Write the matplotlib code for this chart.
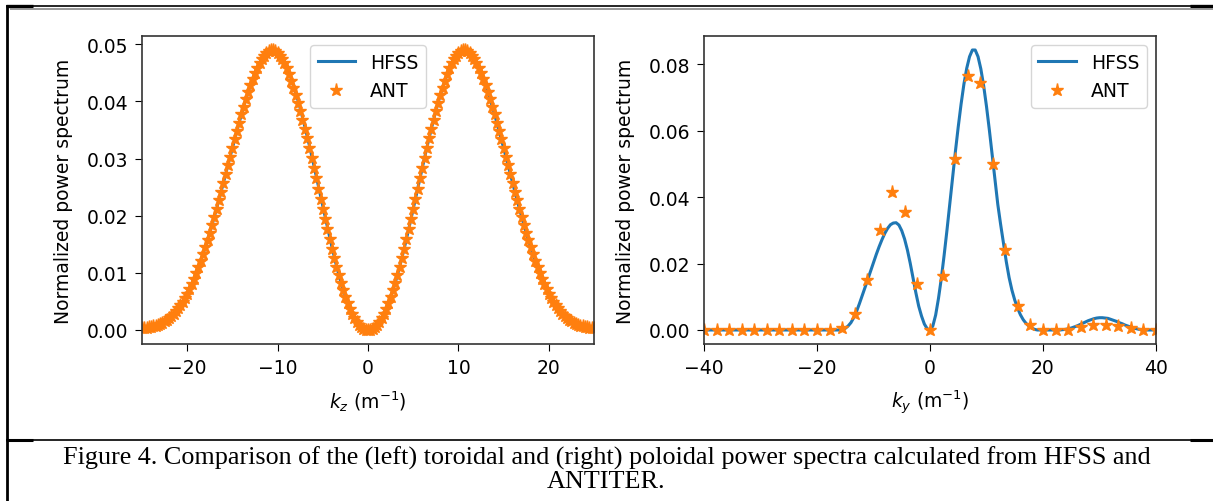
import numpy as np
import matplotlib
matplotlib.use("Agg")
import matplotlib.pyplot as plt
from matplotlib.lines import Line2D

# ---------------- data ----------------
# left panel: toroidal spectrum
# ANT points, k_z = -25 .. -0.25 and 0 .. 25 (step 0.25)
kz_ant = np.linspace(-25, 25, 201)
ant_left_neg = [
    0.00029, 0.00034, 0.00039, 0.00047, 0.00054, 0.00066, 0.00078, 0.00093, 0.00108, 0.00130,
    0.00152, 0.00182, 0.00211, 0.00248, 0.00284, 0.00331, 0.00377, 0.00436, 0.00495, 0.00566,
    0.00637, 0.00721, 0.00804, 0.00900, 0.00995, 0.01103, 0.01210, 0.01328, 0.01446, 0.01576,
    0.01705, 0.01843, 0.01980, 0.02125, 0.02269, 0.02421, 0.02573, 0.02728, 0.02881, 0.03034,
    0.03185, 0.03336, 0.03484, 0.03631, 0.03773, 0.03911, 0.04043, 0.04169, 0.04288, 0.04396,
    0.04498, 0.04588, 0.04670, 0.04737, 0.04797, 0.04841, 0.04876, 0.04893, 0.04900, 0.04882,
    0.04851, 0.04801, 0.04743, 0.04664, 0.04577, 0.04472, 0.04361, 0.04242, 0.04116, 0.03977,
    0.03832, 0.03678, 0.03518, 0.03354, 0.03185, 0.03010, 0.02832, 0.02654, 0.02475, 0.02296,
    0.02117, 0.01940, 0.01764, 0.01591, 0.01421, 0.01259, 0.01103, 0.00957, 0.00818, 0.00692,
    0.00573, 0.00466, 0.00368, 0.00283, 0.00206, 0.00143, 0.00088, 0.00050, 0.00020, 0.00005,
]
ant_left_pos = [
    0.00000, 0.00005, 0.00020, 0.00050, 0.00088, 0.00143, 0.00206, 0.00283, 0.00368, 0.00466,
    0.00573, 0.00692, 0.00818, 0.00957, 0.01103, 0.01259, 0.01421, 0.01591, 0.01764, 0.01940,
    0.02117, 0.02296, 0.02475, 0.02654, 0.02832, 0.03010, 0.03185, 0.03354, 0.03518, 0.03678,
    0.03832, 0.03977, 0.04116, 0.04242, 0.04361, 0.04472, 0.04577, 0.04664, 0.04743, 0.04801,
    0.04851, 0.04882, 0.04900, 0.04893, 0.04876, 0.04841, 0.04797, 0.04737, 0.04670, 0.04588,
    0.04498, 0.04396, 0.04288, 0.04169, 0.04043, 0.03911, 0.03773, 0.03631, 0.03484, 0.03336,
    0.03185, 0.03034, 0.02881, 0.02728, 0.02573, 0.02421, 0.02269, 0.02125, 0.01980, 0.01843,
    0.01705, 0.01576, 0.01446, 0.01328, 0.01210, 0.01103, 0.00995, 0.00900, 0.00804, 0.00721,
    0.00637, 0.00566, 0.00495, 0.00436, 0.00377, 0.00331, 0.00284, 0.00248, 0.00211, 0.00182,
    0.00152, 0.00130, 0.00108, 0.00093, 0.00078, 0.00066, 0.00054, 0.00047, 0.00039, 0.00034,
    0.00029,
]
# HFSS line, k_z = -25 .. 25 (step 0.5)
kz_hfss = np.linspace(-25, 25, 101)
hfss_left = [
    0.00029, 0.00039, 0.00054, 0.00078, 0.00108, 0.00152, 0.00211, 0.00284, 0.00377, 0.00495,
    0.00637, 0.00804, 0.00995, 0.01210, 0.01446, 0.01705, 0.01980, 0.02269, 0.02573, 0.02881,
    0.03185, 0.03484, 0.03773, 0.04043, 0.04288, 0.04498, 0.04670, 0.04797, 0.04876, 0.04900,
    0.04860, 0.04760, 0.04600, 0.04400, 0.04160, 0.03880, 0.03570, 0.03240, 0.02890, 0.02530,
    0.02170, 0.01810, 0.01460, 0.01130, 0.00840, 0.00590, 0.00380, 0.00210, 0.00090, 0.00020,
    0.00000,
    0.00020, 0.00088, 0.00206, 0.00368, 0.00573, 0.00818, 0.01103, 0.01421, 0.01764, 0.02117,
    0.02475, 0.02832, 0.03185, 0.03518, 0.03832, 0.04116, 0.04361, 0.04577, 0.04743, 0.04851,
    0.04900, 0.04876, 0.04797, 0.04670, 0.04498, 0.04288, 0.04043, 0.03773, 0.03484, 0.03185,
    0.02881, 0.02573, 0.02269, 0.01980, 0.01705, 0.01446, 0.01210, 0.00995, 0.00804, 0.00637,
    0.00495, 0.00377, 0.00284, 0.00211, 0.00152, 0.00108, 0.00078, 0.00054, 0.00039, 0.00029,
]

# right panel: poloidal spectrum
ky_hfss = np.concatenate([np.arange(-40, -16, 1.0), np.arange(-16, 40.01, 0.5)])
hfss_right = (
    [0.0] * 24 +
    # -16 .. 0
    [0.0000, 0.0002, 0.0005, 0.0012, 0.0022, 0.0037, 0.0056, 0.0079, 0.0103, 0.0128,
     0.0153, 0.0178, 0.0203, 0.0228, 0.0251, 0.0272, 0.0291, 0.0306, 0.0317, 0.0322,
     0.0323, 0.0316, 0.0299, 0.0274, 0.0241, 0.0201, 0.0157, 0.0112, 0.0072, 0.0042,
     0.0018, 0.0004, 0.0000] +
    # 0.5 .. 19
    [0.0012, 0.0045, 0.0095, 0.0155, 0.0225, 0.0300, 0.0380, 0.0460, 0.0538, 0.0612,
     0.0680, 0.0740, 0.0788, 0.0823, 0.0843, 0.0843, 0.0823, 0.0786, 0.0735, 0.0673,
     0.0603, 0.0527, 0.0451, 0.0378, 0.0318, 0.0262, 0.0206, 0.0158, 0.0120, 0.0090,
     0.0066, 0.0046, 0.0031, 0.0020, 0.0012, 0.0006, 0.0002, 0.0000] +
    # 19.5 .. 23
    [0.0, 0.0, 0.0, 0.0, 0.0, 0.0, 0.0, 0.0] +
    # 23.5 .. 40
    [0.0001, 0.0002, 0.0004, 0.0006, 0.0009, 0.0012, 0.0016, 0.0020, 0.0024, 0.0028,
     0.0031, 0.0034, 0.0036, 0.0037, 0.0037, 0.0036, 0.0035, 0.0032, 0.0029, 0.0026,
     0.0022, 0.0019, 0.0015, 0.0012, 0.0009, 0.0006, 0.0004, 0.0002, 0.0001, 0.0,
     0.0, 0.0, 0.0, 0.0]
)
ky_ant = np.linspace(-40, 40, 37)
ant_right = [0.0] * 11 + [
    0.0007, 0.0049, 0.0151, 0.0300, 0.0414, 0.0354, 0.0139, 0.0000,
    0.0163, 0.0515, 0.0765, 0.0745, 0.0500, 0.0241, 0.0073, 0.0014,
    0.0000, 0.0000, 0.0000, 0.0010, 0.0014, 0.0014, 0.0012, 0.0007, 0.0000, 0.0000,
]

caption = ("Figure 4. Comparison of the (left) toroidal and (right) poloidal power spectra calculated from HFSS and\nANTITER.")

# ---------------- figure ----------------
W, H = 1213, 502
fig = plt.figure(figsize=(W / 100, H / 100), dpi=100)
plt.rcParams['font.family'] = ['DejaVu Sans']
fs = 13.5

blue = '#1f77b4'
orange = '#ff7f0e'

def px(x0, y0, x1, y1):
    return [x0 / W, (H - y1) / H, (x1 - x0) / W, (y1 - y0) / H]

ax1 = fig.add_axes(px(142, 37, 594, 345))
ax2 = fig.add_axes(px(704, 37, 1156, 345))

ax1.plot(kz_hfss, hfss_left, color=blue, lw=2.2, label='HFSS')
ax1.plot(kz_ant, ant_left_neg + ant_left_pos, '*', color=orange, ms=9.5, label='ANT')
ax1.set_xlim(-25, 25)
ax1.set_xticks([-20, -10, 0, 10, 20])
ax1.set_yticks([0, 0.01, 0.02, 0.03, 0.04, 0.05])
ax1.set_xlabel(r'$k_z$ (m$^{-1}$)', fontsize=fs, labelpad=8)
ax1.set_ylabel('Normalized power spectrum', fontsize=fs, labelpad=10)
ax1.legend(loc='upper center', fontsize=fs)

ax2.plot(ky_hfss, hfss_right, color=blue, lw=2.2, label='HFSS')
ax2.plot(ky_ant, ant_right, '*', color=orange, ms=9.5, label='ANT')
ax2.set_xlim(-40, 40)
ax2.set_xticks([-40, -20, 0, 20, 40])
ax2.set_yticks([0, 0.02, 0.04, 0.06, 0.08])
ax2.set_xlabel(r'$k_y$ (m$^{-1}$)', fontsize=fs, labelpad=8)
ax2.set_ylabel('Normalized power spectrum', fontsize=fs, labelpad=10)
ax2.legend(loc='upper right', fontsize=fs)

for ax in (ax1, ax2):
    ax.tick_params(labelsize=fs, length=5, pad=5)
    for s in ax.spines.values():
        s.set_linewidth(1.2)
        s.set_color('#333333')

# table-like frame lines (figure pixel coords)
def hline(x0, x1, y, lw, color='black'):
    fig.add_artist(Line2D([x0 / W, x1 / W], [1 - y / H, 1 - y / H], transform=fig.transFigure,
                          color=color, lw=lw, solid_capstyle='butt'))

def vline(x, y0, y1, lw, color='black'):
    fig.add_artist(Line2D([x / W, x / W], [1 - y0 / H, 1 - y1 / H], transform=fig.transFigure,
                          color=color, lw=lw, solid_capstyle='butt'))

hline(6, W, 6.5, 1.2)
hline(6, 33, 6.5, 2.4)
hline(1190, W, 6.5, 2.4)
hline(10, W, 10, 1.2, '#888888')
vline(7, 5.5, H, 2.0)
hline(6, W, 440.5, 1.2)
hline(6, 33, 440.5, 2.2)
hline(1190, W, 440.5, 2.2)

fig.text(0.5, 1 - 470 / H, caption, ha='center', va='center', fontsize=18.8,
         family='Liberation Serif', linespacing=1.08)

fig.savefig('out.png', dpi=100)
